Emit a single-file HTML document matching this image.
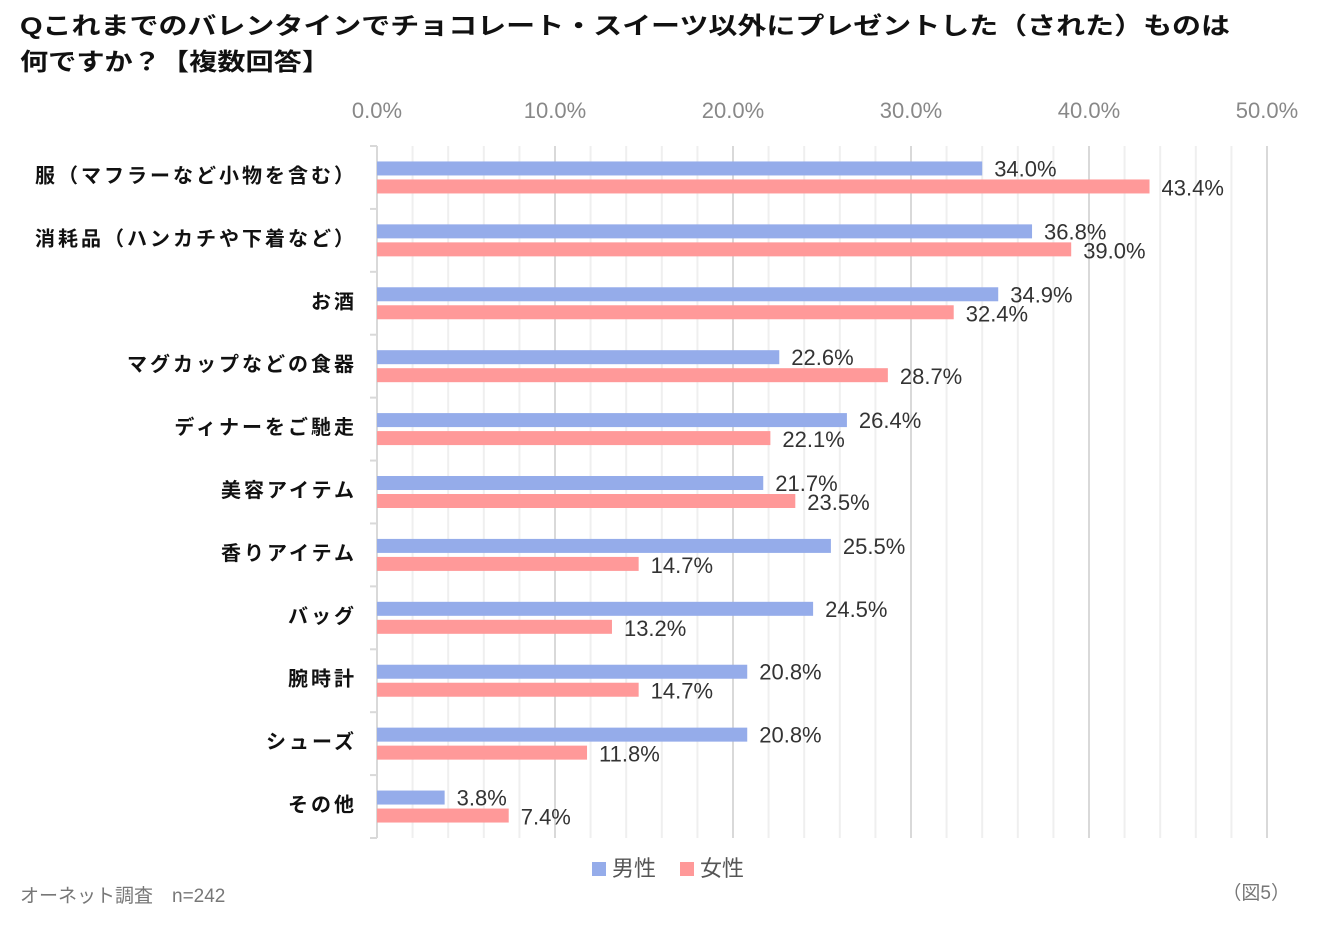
<!DOCTYPE html>
<html><head><meta charset="utf-8">
<style>
body{margin:0;background:#fff;}
svg{display:block;font-family:"Liberation Sans","Noto Sans CJK JP",sans-serif;}
</style></head>
<body>
<svg id="chart" width="1324" height="936" viewBox="0 0 1324 936">
<text x="20" y="34" font-size="24" font-weight="bold" fill="#111" textLength="1210" lengthAdjust="spacingAndGlyphs">Qこれまでのバレンタインでチョコレート・スイーツ以外にプレゼントした（された）ものは</text>
<text x="20" y="70" font-size="24" font-weight="bold" fill="#111" textLength="310" lengthAdjust="spacingAndGlyphs">何ですか？【複数回答】</text>
<g id="grid"></g>
<g id="xticks"></g>
<g id="cats"></g>
<g id="bars"></g>
<g>
<rect x="592" y="862" width="14" height="14" fill="#95acea"/>
<text x="612" y="876" font-size="22" fill="#555">男性</text>
<rect x="680" y="862" width="14" height="14" fill="#ff9999"/>
<text x="700" y="876" font-size="22" fill="#555">女性</text>
</g>
<text x="20" y="902" font-size="19" fill="#777">オーネット調査　n=242</text>
<text x="1290" y="899" font-size="19" fill="#777" text-anchor="end">（図5）</text>
</svg>
<script>
const categories=["服（マフラーなど小物を含む）","消耗品（ハンカチや下着など）","お酒","マグカップなどの食器","ディナーをご馳走","美容アイテム","香りアイテム","バッグ","腕時計","シューズ","その他"];
const maleValues=[34.0,36.8,34.9,22.6,26.4,21.7,25.5,24.5,20.8,20.8,3.8];
const femaleValues=[43.4,39.0,32.4,28.7,22.1,23.5,14.7,13.2,14.7,11.8,7.4];
const tickLabels=["0.0%","10.0%","20.0%","30.0%","40.0%","50.0%"];
const NS="http://www.w3.org/2000/svg";
const x0=377,x1=1267,xMax=50,yTop=146,yBottom=838;
const rowH=(yBottom-yTop)/categories.length;
const xs=v=>x0+(v/xMax)*(x1-x0);
function mk(tag,attrs,parent,text){const e=document.createElementNS(NS,tag);for(const k in attrs)e.setAttribute(k,attrs[k]);if(text!==undefined)e.textContent=text;parent.appendChild(e);return e;}
const grid=document.getElementById('grid');
for(let v=2;v<=xMax;v+=2){
  const major=v%10===0;
  const l=mk('line',{x1:xs(v),x2:xs(v),y1:yTop,y2:yBottom,stroke:major?'#d9d9d9':'#efefef','stroke-width':2},grid);
  
  
}
const ax=mk('line',{x1:x0,x2:x0,y1:yTop,y2:yBottom,stroke:'#d9d9d9','stroke-width':2},grid);


for(let i=0;i<=categories.length;i++){
  const t=mk('line',{x1:x0-7,x2:x0,y1:yTop+i*rowH,y2:yTop+i*rowH,stroke:'#d9d9d9','stroke-width':2},grid);
  
  
}
const xt=document.getElementById('xticks');
tickLabels.forEach((s,i)=>{
  const t=mk('text',{x:xs(i*10),y:118,'font-size':22,fill:'#888','text-anchor':'middle'},xt,s);
  
  
});
const cg=document.getElementById('cats'),bg=document.getElementById('bars');
categories.forEach((c,i)=>{
  const cy=yTop+i*rowH+rowH/2;
  const t=mk('text',{x:357,y:cy+5,'font-size':20,'font-weight':'bold',fill:'#111','text-anchor':'end','letter-spacing':'3'},cg,c);
  
  
  const bm=mk('rect',{x:x0,y:cy-16,width:xs(maleValues[i])-x0,height:14,fill:'#95acea'},bg);
  
  
  const bf=mk('rect',{x:x0,y:cy+2,width:xs(femaleValues[i])-x0,height:14,fill:'#ff9999'},bg);
  
  
  const lm=mk('text',{x:xs(maleValues[i])+12,y:cy-1,'font-size':22,fill:'#333'},bg,maleValues[i].toFixed(1)+'%');
  
  
  const lf=mk('text',{x:xs(femaleValues[i])+12,y:cy+18,'font-size':22,fill:'#333'},bg,femaleValues[i].toFixed(1)+'%');
  
  
});
</script>
</body></html>
